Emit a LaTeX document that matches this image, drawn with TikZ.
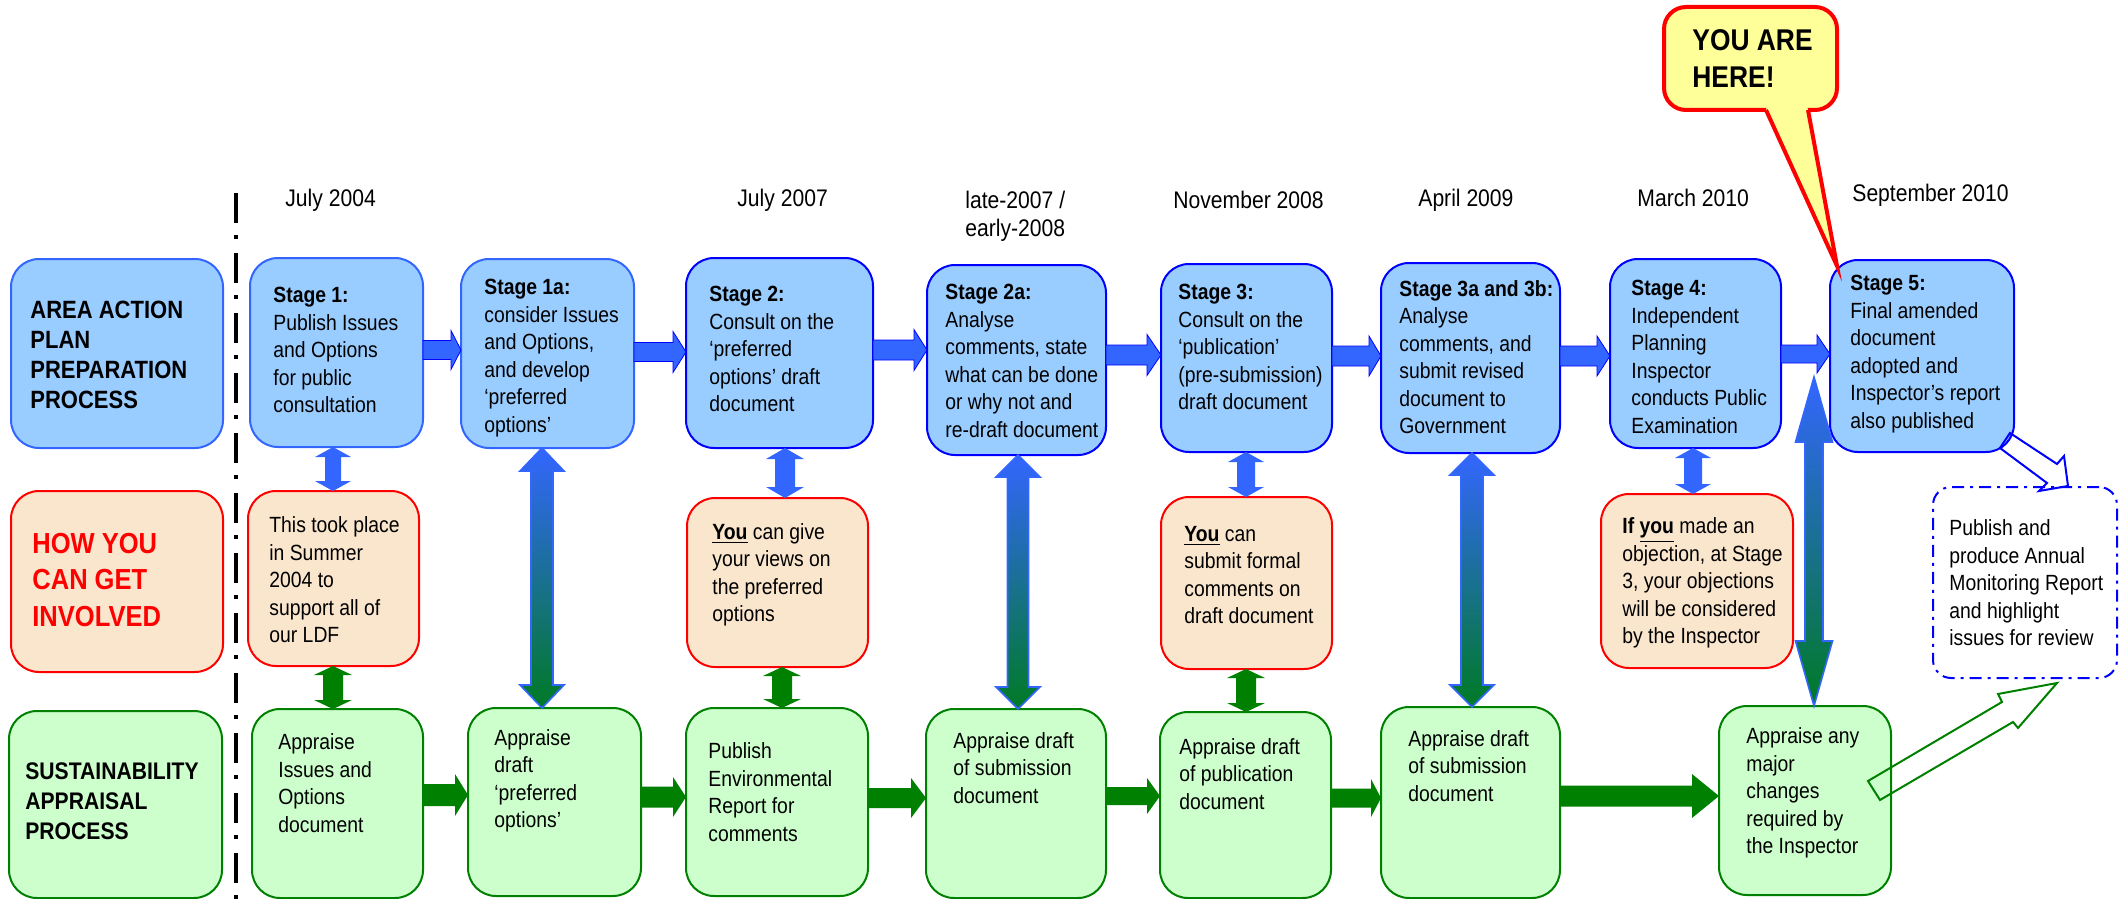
\documentclass[tikz,border=0pt]{standalone}
\usepackage{fontspec}
\setmainfont{Liberation Sans}[FakeStretch=0.88]
\usetikzlibrary{calc}
\definecolor{bfill}{HTML}{99CCFF}
\definecolor{bdark}{HTML}{0000FF}
\definecolor{blight}{HTML}{3366FF}
\definecolor{ofill}{HTML}{FAE6CD}
\definecolor{gfill}{HTML}{CCFFCC}
\definecolor{gdark}{HTML}{008000}
\definecolor{ablue}{HTML}{3366FF}
\definecolor{amid}{HTML}{2E62D8}
\definecolor{agreen}{HTML}{007A25}
\definecolor{cfill}{HTML}{FFFF99}
\definecolor{cred}{HTML}{FF0000}

% horizontal block arrow: from node, to node, y centre, shaft half, head half, head length, style
\newcommand\harr[7]{\path[#7] let \p1=(#1.east), \p2=(#2.west) in
 (\x1,{-(#3-#4)*0.5pt}) -- ({\x2-#6*0.5pt},{-(#3-#4)*0.5pt}) -- ({\x2-#6*0.5pt},{-(#3-#5)*0.5pt})
 -- (\x2,{-#3*0.5pt}) -- ({\x2-#6*0.5pt},{-(#3+#5)*0.5pt}) -- ({\x2-#6*0.5pt},{-(#3+#4)*0.5pt})
 -- (\x1,{-(#3+#4)*0.5pt}) -- cycle;}
% vertical double block arrow: x, top point, bottom point, head length, head half, shaft half, style
\newcommand\varr[7]{\path[#7] let \p1=(#2), \p2=(#3) in
 ({#1*0.5pt},\y1) -- ({(#1+#5)*0.5pt},{\y1-#4*0.5pt}) -- ({(#1+#6)*0.5pt},{\y1-#4*0.5pt})
 -- ({(#1+#6)*0.5pt},{\y2+#4*0.5pt}) -- ({(#1+#5)*0.5pt},{\y2+#4*0.5pt}) -- ({#1*0.5pt},\y2)
 -- ({(#1-#5)*0.5pt},{\y2+#4*0.5pt}) -- ({(#1-#6)*0.5pt},{\y2+#4*0.5pt})
 -- ({(#1-#6)*0.5pt},{\y1-#4*0.5pt}) -- ({(#1-#5)*0.5pt},{\y1-#4*0.5pt}) -- cycle;}

\begin{document}
\begin{tikzpicture}[x=0.5pt,y=-0.5pt,
 box/.style={rectangle, rounded corners=14pt, line width=1pt, inner sep=0pt, outer sep=0pt},
 abox/.style={box, fill=bfill, draw=bdark},
 aboxl/.style={box, fill=bfill, draw=blight},
 obox/.style={box, fill=ofill, draw=cred},
 gbox/.style={box, fill=gfill, draw=gdark},
 dbox/.style={box, rounded corners=9pt, draw=bdark, dash pattern=on 6pt off 3pt on 1.5pt off 3pt},
 cbox/.style={box, rounded corners=11pt, fill=cfill, draw=cred, line width=2pt},
 txt/.style={anchor=west, align=left, inner sep=0pt, font=\fontsize{11}{13.75}\selectfont},
 date/.style={anchor=west, align=left, inner sep=0pt, font=\fontsize{12}{14}\selectfont},
 head/.style={anchor=west, align=left, inner sep=0pt, font=\bfseries\fontsize{12.5}{15}\selectfont},
 redhead/.style={anchor=west, align=left, inner sep=0pt, text=cred, font=\bfseries\fontsize{14.5}{18.3}\selectfont},
 barr/.style={fill=ablue, draw=bdark, line width=0.4pt},
 garr/.style={fill=gdark},
 sbarr/.style={fill=ablue},
 sgarr/.style={fill=gdark},
 larr/.style={top color=ablue, middle color=amid, bottom color=agreen, draw=blight, line width=0.8pt},
 oarrb/.style={draw=bdark, line width=1pt, line join=miter},
 oarrg/.style={draw=gdark, line width=1pt, line join=miter}
]
\useasboundingbox (0,0) rectangle (2122,899);

% dash-dot divider
\draw[line width=2pt, dash pattern=on 15pt off 6pt on 2pt off 7pt] (236,193) -- (236,899);

% left header boxes
\node[aboxl, minimum width=106pt, minimum height=94.5pt] (L1) at (117,353.5) {};
\node[obox, minimum width=106pt, minimum height=90.5pt] (L2) at (117,581.5) {};
\node[gbox, minimum width=106.5pt, minimum height=93.5pt] (L3) at (115.5,804.5) {};

% stage boxes (row 1)
\node[aboxl, minimum width=86.5pt, minimum height=94.5pt] (s1) at (336.5,352.5) {};
\node[aboxl, minimum width=86.5pt, minimum height=94.5pt] (s1a) at (547.5,353.5) {};
\node[abox, minimum width=93.5pt, minimum height=95pt] (s2) at (779.5,353) {};
\node[abox, minimum width=89.5pt, minimum height=95pt] (s2a) at (1016.5,360) {};
\node[abox, minimum width=85.5pt, minimum height=94pt] (s3) at (1246.5,358) {};
\node[abox, minimum width=89.5pt, minimum height=95pt] (s3a) at (1470.5,358) {};
\node[abox, minimum width=85.5pt, minimum height=94.5pt] (s4) at (1695.5,353.5) {};
\node[abox, minimum width=92pt, minimum height=96pt] (s5) at (1922,356) {};

% involvement boxes (row 2)
\node[obox, minimum width=85.5pt, minimum height=87.5pt] (o1) at (333.5,578.5) {};
\node[obox, minimum width=90.5pt, minimum height=84.5pt] (o2) at (777.5,582.5) {};
\node[obox, minimum width=85.5pt, minimum height=86pt] (o3) at (1246.5,583) {};
\node[obox, minimum width=96pt, minimum height=87pt] (o4) at (1697,581) {};

% appraisal boxes (row 3)
\node[gbox, minimum width=85.5pt, minimum height=94.5pt] (g1) at (337.5,803.5) {};
\node[gbox, minimum width=86.5pt, minimum height=94pt] (g2) at (554.5,802) {};
\node[gbox, minimum width=91pt, minimum height=94pt] (g3) at (777,802) {};
\node[gbox, minimum width=90pt, minimum height=94.5pt] (g4) at (1016,803.5) {};
\node[gbox, minimum width=85.5pt, minimum height=93pt] (g5) at (1245.5,805) {};
\node[gbox, minimum width=89.5pt, minimum height=95.5pt] (g6) at (1470.5,802.5) {};
\node[gbox, minimum width=86pt, minimum height=94.5pt] (g7) at (1805,800.5) {};

% monitoring box
\node[dbox, minimum width=92pt, minimum height=95.5pt] (d) at (2025,582.5) {};

% horizontal arrows, row 1
\harr{s1}{s1a}{350}{9.5}{19.5}{10}{barr}
\harr{s1a}{s2}{352}{9.5}{20.5}{13}{barr}
\harr{s2}{s2a}{350}{10}{20.5}{13}{barr}
\harr{s2a}{s3}{355}{10}{20.5}{14}{barr}
\harr{s3}{s3a}{356}{10}{20}{12}{barr}
\harr{s3a}{s4}{356}{10}{20}{13}{barr}
\harr{s4}{s5}{354}{9}{19}{13}{barr}

% horizontal arrows, row 3
\harr{g1}{g2}{795}{11}{21}{13}{garr}
\harr{g2}{g3}{797}{10.5}{20}{13}{garr}
\harr{g3}{g4}{798}{10}{20}{15}{garr}
\harr{g4}{g5}{796}{9}{18}{13}{garr}
\harr{g5}{g6}{798}{9.5}{19}{10}{garr}
\harr{g6}{g7}{796}{10.5}{22}{27}{garr}

% short double arrows
\varr{333}{s1.south}{o1.north}{10}{18}{8}{sbarr}
\varr{785}{s2.south}{o2.north}{11}{19}{10}{sbarr}
\varr{1246}{s3.south}{o3.north}{10}{18}{9}{sbarr}
\varr{1693}{s4.south}{o4.north}{10}{18}{9}{sbarr}
\varr{333}{o1.south}{g1.north}{9}{19}{10}{sgarr}
\varr{782}{o2.south}{g3.north}{9}{19}{10}{sgarr}
\varr{1246}{o3.south}{g5.north}{9}{19}{10}{sgarr}

% long double arrows
\coordinate (p45) at (1814,377);
\varr{542}{s1a.south}{g2.north}{23}{22}{11}{larr}
\varr{1018}{s2a.south}{g4.north}{22}{22}{10.5}{larr}
\varr{1472}{s3a.south}{g6.north}{22}{22}{11}{larr}
\varr{1814}{p45}{g7.north}{65}{18.5}{9}{larr}

% outline arrows to the monitoring box
\begin{scope}[shift={(s5.south east)}]
\draw[oarrb] (-4,-19) -- (43,12) -- (50,4) -- (54,34) -- (25,39) -- (33,31) -- (-14,-4) -- cycle;
\end{scope}
\begin{scope}[shift={(g7.east)}]
\draw[oarrg] (-23,-19.5) -- (111,-98.5) -- (107,-106.5) -- (166,-117.5) -- (127,-72.5) -- (122,-78.5) -- (-11,-0.5) -- cycle;
\end{scope}

% callout
\node[cbox, minimum width=86.5pt, minimum height=51.5pt] (yah) at (1750.5,58.5) {};
\coordinate (tip) at ($(s5.north west)+(7,6)$);
\fill[cfill] ($(yah.south)+(16.5,-4)$) -- ($(yah.south)+(56.5,-4)$) -- ($(yah.south)+(57.5,0)$) -- (tip) -- ($(yah.south)+(15.5,0)$) -- cycle;
\draw[cred, line width=2pt] ($(yah.south)+(15.5,0)$) -- (tip) -- ($(yah.south)+(57.5,0)$);
\node[anchor=west, align=left, inner sep=0pt, font=\bfseries\fontsize{15}{18.5}\selectfont] (yaht) at (1692,58.5) {YOU ARE\\HERE!};

% dates
\node[date] (d1) at (285,200) {July 2004};
\node[date] (d2) at (737,200) {July 2007};
\node[date] (d3) at (965,216) {late-2007 /\\early-2008};
\node[date] (d4) at (1173,200) {November 2008};
\node[date] (d5) at (1418,200) {April 2009};
\node[date] (d6) at (1637,198) {March 2010};
\node[date] (d7) at (1852,195) {September 2010};

% header texts
\node[head] (L1t) at (30,355) {AREA ACTION\\PLAN\\PREPARATION\\PROCESS};
\node[redhead] (L2t) at (32,580) {HOW YOU\\CAN GET\\INVOLVED};
\node[head, font=\bfseries\fontsize{12}{15}\selectfont] (L3t) at (25,801) {SUSTAINABILITY\\APPRAISAL\\PROCESS};

% stage texts
\node[txt] (s1t) at (273,350) {\textbf{Stage 1:}\\Publish Issues\\and Options\\for public\\consultation};
\node[txt] (s1at) at (484,358) {\textbf{Stage 1a:}\\consider Issues\\and Options,\\and develop\\‘preferred\\options’};
\node[txt] (s2t) at (709,349) {\textbf{Stage 2:}\\Consult on the\\‘preferred\\options’ draft\\document};
\node[txt] (s2at) at (945,361) {\textbf{Stage 2a:}\\Analyse\\comments, state\\what can be done\\or why not and\\re-draft document};
\node[txt] (s3t) at (1178,347) {\textbf{Stage 3:}\\Consult on the\\‘publication’\\(pre-submission)\\draft document};
\node[txt] (s3at) at (1399,357) {\textbf{Stage 3a and 3b:}\\Analyse\\comments, and\\submit revised\\document to\\Government};
\node[txt] (s4t) at (1631,357) {\textbf{Stage 4:}\\Independent\\Planning\\Inspector\\conducts Public\\Examination};
\node[txt] (s5t) at (1850,354) {\textbf{Stage 5:}\\Final amended\\document\\adopted and\\Inspector’s report\\also published};

% involvement texts
\node[txt] (o1t) at (269,580) {This took place\\in Summer\\2004 to\\support all of\\our LDF};
\node[txt] (o2t) at (712,575) {\underline{\textbf{You}} can give\\your views on\\the preferred\\options};
\node[txt] (o3t) at (1184,575) {\underline{\textbf{You}} can\\submit formal\\comments on\\draft document};
\node[txt] (o4t) at (1622,583) {\textbf{If \underline{you}} made an\\objection, at Stage\\3, your objections\\will be considered\\by the Inspector};

% appraisal texts
\node[txt] (g1t) at (278,783) {Appraise\\Issues and\\Options\\document};
\node[txt] (g2t) at (494,781) {Appraise\\draft\\‘preferred\\options’};
\node[txt] (g3t) at (708,792) {Publish\\Environmental\\Report for\\comments};
\node[txt] (g4t) at (953,768) {Appraise draft\\of submission\\document};
\node[txt] (g5t) at (1179,774) {Appraise draft\\of publication\\document};
\node[txt] (g6t) at (1408,766) {Appraise draft\\of submission\\document};
\node[txt] (g7t) at (1746,793) {Appraise any\\major\\changes\\required by\\the Inspector};
\node[txt] (dt) at (1949,583) {Publish and\\produce Annual\\Monitoring Report\\and highlight\\issues for review};
\end{tikzpicture}
\end{document}
